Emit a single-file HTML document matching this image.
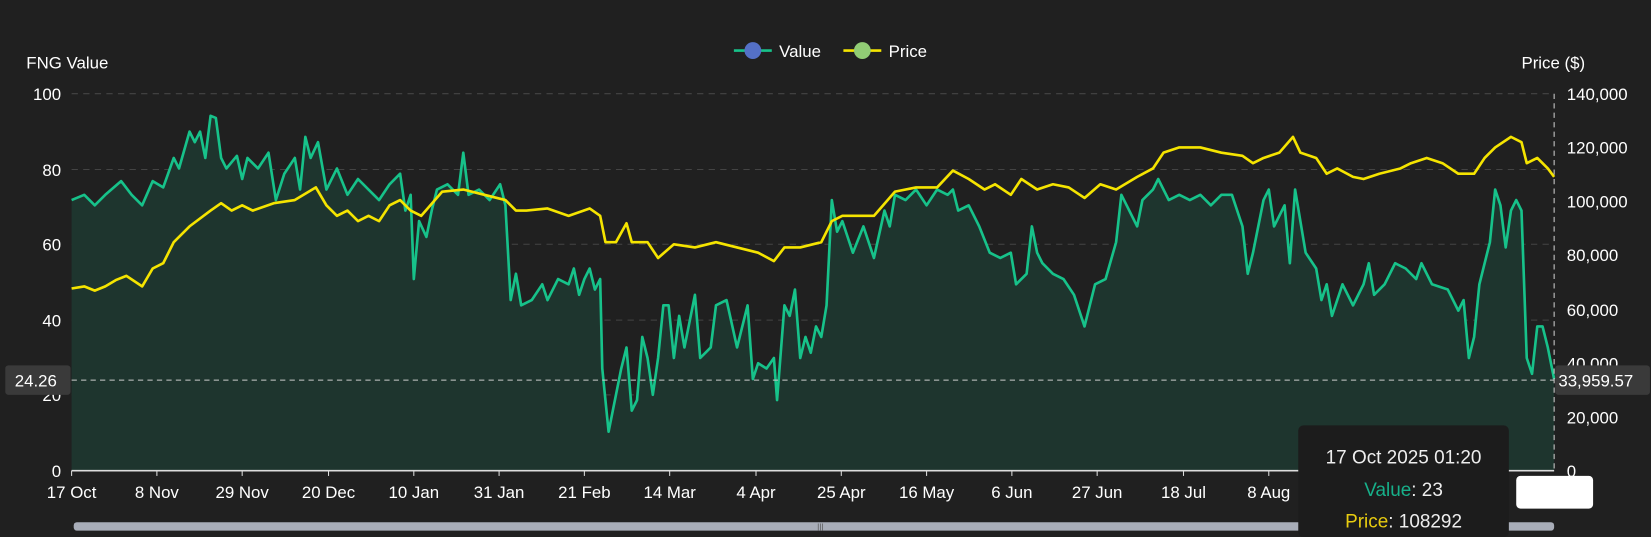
<!DOCTYPE html><html><head><meta charset="utf-8"><style>
body{margin:0;background:#202020;width:1651px;height:537px;overflow:hidden;font-family:"Liberation Sans",sans-serif;}
svg{display:block}
</style></head><body>
<svg width="1651" height="537" viewBox="0 0 1568 510" preserveAspectRatio="none" xmlns="http://www.w3.org/2000/svg" font-family="Liberation Sans, sans-serif">
<rect width="1568" height="510" fill="#202020"/>
<g stroke="#444" stroke-dasharray="6,5" stroke-width="1">
<line x1="68" y1="89" x2="1476" y2="89"/><line x1="68" y1="161" x2="1476" y2="161"/><line x1="68" y1="232" x2="1476" y2="232"/><line x1="68" y1="304" x2="1476" y2="304"/><line x1="68" y1="375" x2="1476" y2="375"/>
</g>
<polygon fill="#1e352e" points="68,447 68,190 80,185 90,195 100,185 115,172 125,185 135,195 145,172 155,178 165,150 170,160 180,125 185,135 190,125 195,150 200,110 205,112 210,150 215,160 225,148 230,170 235,150 245,160 255,145 262,190 270,165 280,150 285,180 290,130 295,150 302,135 310,180 320,160 330,185 340,170 350,180 360,190 370,175 380,165 385,200 390,185 393,265 398,210 405,225 410,200 415,180 425,175 435,185 440,145 445,185 455,180 465,190 475,175 480,195 485,285 490,260 495,290 505,285 515,270 520,285 530,265 540,270 545,255 550,280 555,265 560,255 565,275 570,265 572,350 578,410 582,390 590,350 595,330 600,390 605,380 610,320 615,340 620,375 625,340 630,290 635,290 640,340 645,300 650,330 660,280 665,340 675,330 680,290 690,285 700,330 710,290 715,360 720,345 728,350 735,340 738,380 745,290 750,300 755,275 760,340 765,320 770,335 775,310 780,320 785,290 790,190 795,220 800,210 810,240 820,215 830,245 840,200 845,215 850,185 860,190 870,180 880,195 890,180 900,185 905,180 910,200 920,195 930,215 940,240 950,245 960,240 965,270 975,260 980,215 985,240 990,250 1000,260 1010,265 1020,280 1030,310 1035,290 1040,270 1050,265 1060,230 1065,185 1070,195 1080,215 1085,190 1095,180 1100,170 1110,190 1120,185 1130,190 1140,185 1150,195 1160,185 1170,185 1180,215 1185,260 1190,240 1200,190 1205,180 1210,215 1220,195 1225,250 1230,180 1240,240 1250,255 1255,285 1260,270 1265,300 1275,270 1285,290 1295,270 1300,250 1305,280 1315,270 1325,250 1335,255 1345,265 1350,250 1360,270 1375,275 1385,295 1390,285 1395,340 1400,320 1405,270 1415,230 1420,180 1425,195 1430,235 1435,200 1440,190 1445,200 1450,340 1455,355 1460,310 1465,310 1470,330 1476,360 1476,447"/>
<polyline fill="none" stroke="#17c28a" stroke-width="2.5" stroke-linejoin="round" points="68,190 80,185 90,195 100,185 115,172 125,185 135,195 145,172 155,178 165,150 170,160 180,125 185,135 190,125 195,150 200,110 205,112 210,150 215,160 225,148 230,170 235,150 245,160 255,145 262,190 270,165 280,150 285,180 290,130 295,150 302,135 310,180 320,160 330,185 340,170 350,180 360,190 370,175 380,165 385,200 390,185 393,265 398,210 405,225 410,200 415,180 425,175 435,185 440,145 445,185 455,180 465,190 475,175 480,195 485,285 490,260 495,290 505,285 515,270 520,285 530,265 540,270 545,255 550,280 555,265 560,255 565,275 570,265 572,350 578,410 582,390 590,350 595,330 600,390 605,380 610,320 615,340 620,375 625,340 630,290 635,290 640,340 645,300 650,330 660,280 665,340 675,330 680,290 690,285 700,330 710,290 715,360 720,345 728,350 735,340 738,380 745,290 750,300 755,275 760,340 765,320 770,335 775,310 780,320 785,290 790,190 795,220 800,210 810,240 820,215 830,245 840,200 845,215 850,185 860,190 870,180 880,195 890,180 900,185 905,180 910,200 920,195 930,215 940,240 950,245 960,240 965,270 975,260 980,215 985,240 990,250 1000,260 1010,265 1020,280 1030,310 1035,290 1040,270 1050,265 1060,230 1065,185 1070,195 1080,215 1085,190 1095,180 1100,170 1110,190 1120,185 1130,190 1140,185 1150,195 1160,185 1170,185 1180,215 1185,260 1190,240 1200,190 1205,180 1210,215 1220,195 1225,250 1230,180 1240,240 1250,255 1255,285 1260,270 1265,300 1275,270 1285,290 1295,270 1300,250 1305,280 1315,270 1325,250 1335,255 1345,265 1350,250 1360,270 1375,275 1385,295 1390,285 1395,340 1400,320 1405,270 1415,230 1420,180 1425,195 1430,235 1435,200 1440,190 1445,200 1450,340 1455,355 1460,310 1465,310 1470,330 1476,360"/>
<polyline fill="none" stroke="#f5e400" stroke-width="2.5" stroke-linejoin="round" points="68,274 80,272 90,276 100,272 110,266 120,262 135,272 145,255 155,250 165,230 180,215 200,200 210,193 220,200 230,195 240,200 260,193 280,190 300,178 310,195 320,205 330,200 340,210 350,205 360,210 370,195 380,190 390,200 400,205 420,182 440,180 460,185 480,190 490,200 500,200 520,198 540,205 560,198 570,205 575,230 585,230 595,212 600,230 615,230 625,245 640,232 660,235 680,230 700,235 720,240 735,248 745,235 760,235 780,230 790,210 800,205 830,205 850,182 870,178 890,178 905,162 920,170 935,180 945,175 960,185 970,170 985,180 1000,175 1015,178 1030,188 1045,175 1060,180 1080,168 1095,160 1105,145 1120,140 1140,140 1160,145 1180,148 1190,155 1200,150 1215,145 1228,130 1235,145 1250,150 1260,165 1270,160 1285,168 1295,170 1310,165 1330,160 1340,155 1355,150 1370,155 1385,165 1400,165 1410,150 1420,140 1435,130 1445,135 1450,155 1460,150 1470,160 1476,168"/>
<line x1="68" y1="447" x2="1476" y2="447" stroke="#ddd" stroke-width="1.5"/>
<g stroke="#ddd"><line x1="68" y1="447" x2="68" y2="452"/><line x1="149" y1="447" x2="149" y2="452"/><line x1="230" y1="447" x2="230" y2="452"/><line x1="312" y1="447" x2="312" y2="452"/><line x1="393" y1="447" x2="393" y2="452"/><line x1="474" y1="447" x2="474" y2="452"/><line x1="555" y1="447" x2="555" y2="452"/><line x1="636" y1="447" x2="636" y2="452"/><line x1="718" y1="447" x2="718" y2="452"/><line x1="799" y1="447" x2="799" y2="452"/><line x1="880" y1="447" x2="880" y2="452"/><line x1="961" y1="447" x2="961" y2="452"/><line x1="1042" y1="447" x2="1042" y2="452"/><line x1="1124" y1="447" x2="1124" y2="452"/><line x1="1205" y1="447" x2="1205" y2="452"/><line x1="1286" y1="447" x2="1286" y2="452"/><line x1="1367" y1="447" x2="1367" y2="452"/></g>
<g stroke="#ccc" stroke-dasharray="5,4"><line x1="1476" y1="89" x2="1476" y2="447"/><line x1="68" y1="361" x2="1476" y2="361"/></g>
<g fill="#fff" font-size="16" text-anchor="middle">
<text x="68" y="473">17 Oct</text><text x="149" y="473">8 Nov</text><text x="230" y="473">29 Nov</text><text x="312" y="473">20 Dec</text><text x="393" y="473">10 Jan</text><text x="474" y="473">31 Jan</text><text x="555" y="473">21 Feb</text><text x="636" y="473">14 Mar</text><text x="718" y="473">4 Apr</text><text x="799" y="473">25 Apr</text><text x="880" y="473">16 May</text><text x="961" y="473">6 Jun</text><text x="1042" y="473">27 Jun</text><text x="1124" y="473">18 Jul</text><text x="1205" y="473">8 Aug</text><text x="1445" y="473">0</text>
</g>
<g fill="#fff" font-size="16" text-anchor="end">
<text x="58" y="95">100</text><text x="58" y="167">80</text><text x="58" y="238">60</text><text x="58" y="310">40</text><text x="58" y="381">20</text><text x="58" y="453">0</text>
</g>
<g fill="#fff" font-size="16">
<text x="25" y="65">FNG Value</text><text x="1445" y="65">Price ($)</text>
<text x="1488" y="95">140,000</text><text x="1488" y="146">120,000</text><text x="1488" y="197">100,000</text><text x="1488" y="248">80,000</text><text x="1488" y="300">60,000</text><text x="1488" y="351">40,000</text><text x="1488" y="402">20,000</text><text x="1488" y="453">0</text>
</g>
<rect x="5" y="347" width="62" height="28" rx="3" fill="#3a3a3a"/><text x="14" y="367" fill="#fff" font-size="16">24.26</text>
<rect x="1477" y="347" width="90" height="28" rx="3" fill="#3a3a3a"/><text x="1480" y="367" fill="#fff" font-size="16">33,959.57</text>
<rect x="70" y="496" width="1406" height="8" rx="3" fill="#a8adb8"/>
<text x="776" y="503" fill="#555" font-size="8">|||</text>
<rect x="1233" y="404" width="200" height="106" rx="5" fill="#1c1c1c"/>
<text x="1333" y="440" fill="#eee" font-size="18" text-anchor="middle">17 Oct 2025 01:20</text>
<text x="1333" y="471" font-size="18" text-anchor="middle"><tspan fill="#17b08a">Value</tspan><tspan fill="#eee">: 23</tspan></text>
<text x="1333" y="501" font-size="18" text-anchor="middle"><tspan fill="#e8cc10">Price</tspan><tspan fill="#eee">: 108292</tspan></text>
<rect x="1440" y="452" width="73" height="31" rx="4" fill="#fff"/>
<line x1="697" y1="48" x2="733" y2="48" stroke="#17c28a" stroke-width="2.5"/><circle cx="715" cy="48" r="8" fill="#5470c6"/>
<text x="740" y="54" fill="#fff" font-size="16">Value</text>
<line x1="801" y1="48" x2="837" y2="48" stroke="#f5e400" stroke-width="2.5"/><circle cx="819" cy="48" r="8" fill="#91cc75"/>
<text x="844" y="54" fill="#fff" font-size="16">Price</text>
</svg>
</body></html>
